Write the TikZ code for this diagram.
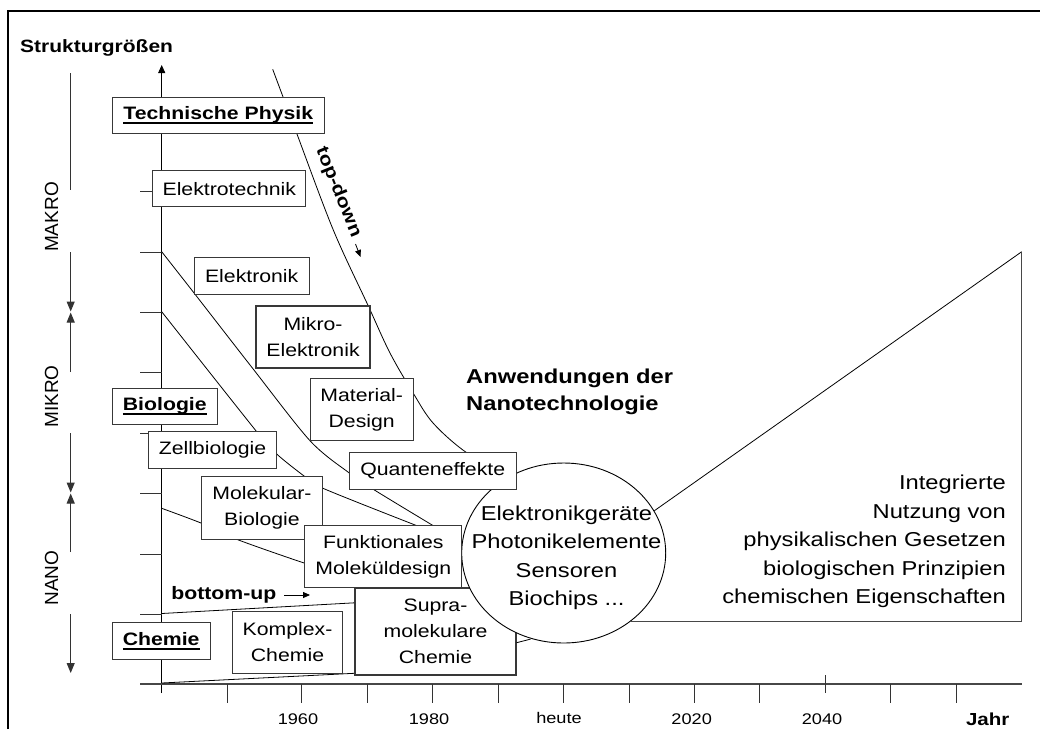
\documentclass[tikz,border=0pt]{standalone}
\usepackage{fontspec}
\setmainfont{Liberation Sans}[FakeStretch=1.18]
\newfontfamily\uprightsans{Liberation Sans}
\usetikzlibrary{arrows.meta,shapes.geometric,calc}

% bold heading word with a heavy underline
\newcommand\ulbf[1]{\setbox0\hbox{\bfseries#1}\rlap{\rule[-4.6pt]{\wd0}{2pt}}\box0}

\tikzset{
  box/.style={draw=black!78, line width=1.1pt, fill=white, inner sep=0pt, align=center,
    font=\fontsize{18}{26}\selectfont},
  frameline/.style={line width=2.2pt},
  axisline/.style={line width=0.9pt},
  xaxisline/.style={line width=1.3pt, black!72},
  tickline/.style={line width=1pt, black!80},
  spanline/.style={line width=1pt, black!80},
  spanhead/.style={-{Triangle[length=10pt,width=8pt]}},
  bandline/.style={line width=0.8pt},
  yearlabel/.style={font=\fontsize{15.4}{16}\selectfont},
  scalelabel/.style={font=\uprightsans\fontsize{19}{19}\selectfont, rotate=90},
  keyword/.style={font=\bfseries\fontsize{18}{20}\selectfont},
  bigtext/.style={font=\fontsize{20.1}{28.5}\selectfont},
}

\begin{document}
\begin{tikzpicture}[x=1pt,y=-1pt]
\useasboundingbox (0,0) rectangle (1040,729);

% outer frame
\draw[frameline] (8.3,729) -- (8.3,11) -- (1040,11);

% vertical axis with its marks
\draw[axisline, -{Triangle[length=8pt,width=7pt]}] (161.7,693) -- (161.7,65);
\foreach \y in {191,252,312,372,433,493,554,614}
  \draw[tickline] (140,\y) -- (161.7,\y);

% time axis with its marks
\draw[xaxisline] (140,684) -- (1021.7,684);
\foreach \x in {227,301,367,432,498,563.3,629,694.5,759,890.7,956}
  \draw[tickline] (\x,684) -- (\x,702.7);
\draw[tickline] (825,675) -- (825,693.3);

% size ranges on the left
\draw[spanline] (70.7,73) -- (70.7,190);
\draw[spanline, spanhead] (70.7,252) -- (70.7,311.5);
\draw[spanline, spanhead] (70.7,372) -- (70.7,312.5);
\draw[spanline, spanhead] (70.7,433) -- (70.7,492.5);
\draw[spanline, spanhead] (70.7,552) -- (70.7,493.5);
\draw[spanline, spanhead] (70.7,614) -- (70.7,673);

\node[scalelabel] (makro) at (51.7,217) {MAKRO};
\node[scalelabel] (mikro) at (51.7,396.5) {MIKRO};
\node[scalelabel] (nano)  at (51.7,578) {NANO};

% boundary curves of the fields
\draw[bandline] plot[smooth, tension=0.55] coordinates
  {(272.7,69.3) (296.7,133.3) (333.3,230) (368.3,306) (390,353) (413.3,393.3)
   (433.3,423.3) (466.7,452.7) (505,472)};
\draw[bandline] plot[smooth, tension=0.5] coordinates
  {(161.7,251.7) (194.3,293.3) (252,367.5) (310,440.7) (349.3,473) (373.3,489.3)
   (433.3,525.7) (458,540)};
\draw[bandline] plot[smooth, tension=0.5] coordinates
  {(161.7,311.7) (256.7,431.7) (276.7,454) (305,476.7) (322.3,488) (413.3,524.3)
   (450,538)};
\draw[bandline] plot[smooth, tension=0.5] coordinates
  {(161.7,508.3) (201.7,523.3) (236.7,539.3) (305,563.3) (330,570)};

% bottom-up funnel
\draw[bandline] (161.7,613.5) -- (360,602.5);
\draw[bandline] (161.7,683) -- (360,673);

% outline of the integrated field
\coordinate (tr) at (1021.7,251.7);
\coordinate (br) at (1021.7,621.7);

% supramolecular chemistry lies under the application ellipse
\node[box, minimum width=161pt, minimum height=87pt] (sc) at (435.5,631.5)
  {Supra-\\molekulare\\Chemie};
\draw[bandline] ($(sc.east)+(0,11.2)$) -- ++(14,-3.6);

\node[ellipse, draw=black, line width=0.9pt, fill=white, inner sep=0pt,
  minimum width=204pt, minimum height=180pt] (ell) at (563.7,553) {};
\node[bigtext, align=center] (apps) at (566.5,558)
  {Elektronikgeräte\\Photonikelemente\\Sensoren\\Biochips ...};

\draw[bandline] (ell.25.6) -- (tr);
\draw[xaxisline] (tr) -- (br) -- (br -| ell.-46.2);

% field boxes
\node[box, minimum width=212pt, minimum height=36pt] (tp) at (218.3,115.3) {\ulbf{Technische Physik}};
\node[box, minimum width=153pt, minimum height=36pt] (et) at (229.3,188.7) {Elektrotechnik};
\node[box, minimum width=115pt, minimum height=37pt] (el) at (251.7,275.7) {Elektronik};
\node[box, minimum width=114pt, minimum height=62pt] (me) at (313,337) {Mikro-\\Elektronik};
\node[box, minimum width=103pt, minimum height=62pt] (md) at (361.7,409.5) {Material-\\Design};
\node[box, minimum width=105pt, minimum height=36pt] (bio) at (164.8,406.3) {\ulbf{Biologie}};
\node[box, minimum width=128pt, minimum height=37pt] (zb) at (212.5,450) {Zellbiologie};
\node[box, minimum width=167pt, minimum height=37pt] (qe) at (432.7,471) {Quanteneffekte};
\node[box, minimum width=121pt, minimum height=63pt] (mb) at (262,508) {Molekular-\\Biologie};
\node[box, minimum width=157pt, minimum height=62pt] (fm) at (383.3,556.7) {Funktionales\\Moleküldesign};
\node[box, minimum width=110pt, minimum height=62pt] (kc) at (287.5,642.5) {Komplex-\\Chemie};
\node[box, minimum width=98pt, minimum height=37pt] (ch) at (161.2,641) {\ulbf{Chemie}};

% headings and direction labels
\node[font=\bfseries\fontsize{17.8}{20}\selectfont, anchor=west, inner sep=0pt] (ylab) at (20,48) {Strukturgrößen};
\node[font=\bfseries\fontsize{20.1}{27.4}\selectfont, align=left, anchor=west, inner sep=0pt] (anw) at (466,392)
  {Anwendungen der\\Nanotechnologie};
\node[bigtext, align=right, anchor=east, inner sep=0pt] (integ) at (1006,541.7)
  {Integrierte\\Nutzung von\\physikalischen Gesetzen\\biologischen Prinzipien\\chemischen Eigenschaften};

\node[keyword, rotate=-68, inner sep=0pt] (td) at (338.3,192) {top-down};
\coordinate (tdA) at (355.5,244);
\coordinate (tdB) at (360.5,257);
\draw[line width=0.8pt, -{Triangle[length=7pt,width=6pt]}] (tdA) -- (tdB);

\node[keyword] (bu) at (223.8,595) {bottom-up};
\coordinate (buA) at (284,595);
\coordinate (buB) at (310,595);
\draw[line width=0.8pt, -{Triangle[length=7pt,width=6pt]}] (buA) -- (buB);

% year labels
\node[yearlabel] (y1960) at (298,719) {1960};
\node[yearlabel] (y1980) at (429,719) {1980};
\node[yearlabel] (yheute) at (559,718) {heute};
\node[yearlabel] (y2020) at (691.7,719) {2020};
\node[yearlabel] (y2040) at (822,719) {2040};
\node[font=\bfseries\fontsize{17.4}{18}\selectfont] (jahr) at (987.7,719) {Jahr};
\end{tikzpicture}
\end{document}
